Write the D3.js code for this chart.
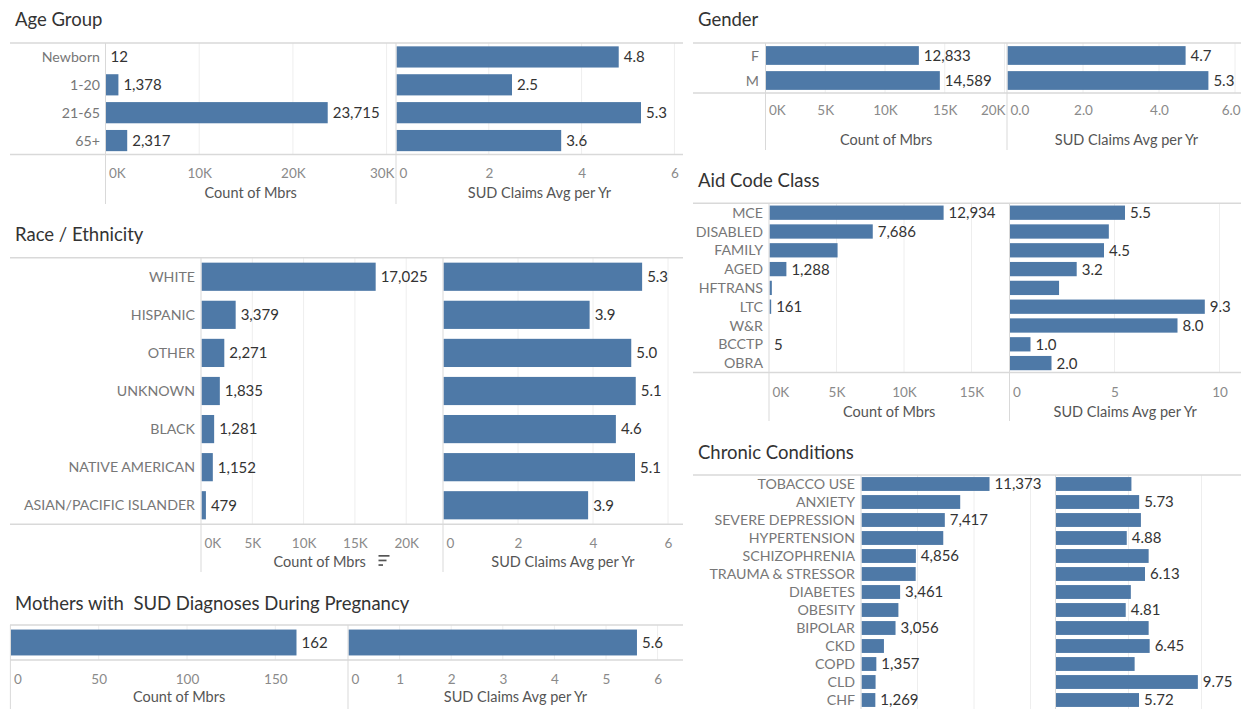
<!DOCTYPE html>
<html><head><meta charset="utf-8">
<script src="https://cdn.jsdelivr.net/npm/d3@7"></script>
<style>
body{margin:0;background:#fff;}
svg{display:block;font-family:Lato,"Open Sans",sans-serif;}
</style></head><body>
<svg id="c" width="1241" height="709"></svg>
<script>
// ---------------- DATA ----------------
const ageCategories = ["Newborn", "1-20", "21-65", "65+"];
const ageCount = [12, 1378, 23715, 2317];
const ageSud = [4.8, 2.5, 5.28, 3.56];

const genderCategories = ["F", "M"];
const genderCount = [12833, 14589];
const genderSud = [4.7, 5.3];

const aidCategories = ["MCE", "DISABLED", "FAMILY", "AGED", "HFTRANS", "LTC", "W&R", "BCCTP", "OBRA"];
const aidCount = [12934, 7686, 5080, 1288, 210, 161, 20, 5, 3];
const aidSud = [5.5, 4.73, 4.5, 3.2, 2.36, 9.3, 8.0, 1.0, 2.0];
const aidCountShown = [1, 1, 0, 1, 0, 1, 0, 1, 0];
const aidSudShown = [1, 0, 1, 1, 0, 1, 1, 1, 1];

const raceCategories = ["WHITE", "HISPANIC", "OTHER", "UNKNOWN", "BLACK", "NATIVE AMERICAN", "ASIAN/PACIFIC ISLANDER"];
const raceCount = [17025, 3379, 2271, 1835, 1281, 1152, 479];
const raceSud = [5.31, 3.91, 5.02, 5.14, 4.61, 5.12, 3.87];

const chronicCategories = ["TOBACCO USE", "ANXIETY", "SEVERE DEPRESSION", "HYPERTENSION", "SCHIZOPHRENIA", "TRAUMA & STRESSOR", "DIABETES", "OBESITY", "BIPOLAR", "CKD", "COPD", "CLD", "CHF"];
const chronicCount = [11373, 8780, 7417, 7280, 4856, 4840, 3461, 3310, 3056, 2030, 1357, 1290, 1269];
const chronicSud = [5.2, 5.73, 5.85, 4.88, 6.38, 6.13, 5.16, 4.81, 6.38, 6.45, 5.42, 9.75, 5.72];
const chronicCountShown = [1, 0, 1, 0, 1, 0, 1, 0, 1, 0, 1, 0, 1];
const chronicSudShown = [0, 1, 0, 1, 0, 1, 0, 1, 0, 1, 0, 1, 1];

const mothersCategories = ["Mothers"];
const mothersCount = [162];
const mothersSud = [5.6];

const ageCountTicks = [0, 10000, 20000, 30000];
const ageSudTicks = [0, 2, 4, 6];
const genderCountTicks = [0, 5000, 10000, 15000, 20000];
const genderSudTicks = [0, 2, 4, 6];
const aidCountTicks = [0, 5000, 10000, 15000];
const aidSudTicks = [0, 5, 10];
const raceCountTicks = [0, 5000, 10000, 15000, 20000];
const raceSudTicks = [0, 2, 4, 6];
const chronicCountTicks = [0, 5000, 10000, 15000];
const chronicSudTicks = [0, 5, 10];
const mothersCountTicks = [0, 50, 100, 150];
const mothersSudTicks = [0, 1, 2, 3, 4, 5, 6];

// ---------------- DRAWING ----------------
const svg = d3.select("#c");
const BAR = "#4e79a7";
const LINE = "#d9d9d9";
const GRID = "#eeeeee";
const fmtK = v => (v / 1000) + "K";
const fmtInt = d3.format(",");
const fmt1 = d3.format(".1f");
const fmt2 = d3.format(".2f");
const fmt0 = d3.format("d");

function drawPanel(p) {
  const g = svg.append("g");
  g.append("text").attr("x", p.tx).attr("y", p.ty)
    .attr("font-size", 18.5).attr("fill", "#333")
    .style("white-space", "pre").text(p.title);

  const y = d3.scaleBand().domain(p.cats).range([p.top, p.bottom])
    .paddingInner(p.pad).paddingOuter(p.pad / 2);
  const bw = y.bandwidth();

  p.measures.forEach(m => {
    const x = d3.scaleLinear().domain([0, m.max]).range([m.x0, m.x0 + m.max * m.ppu]);
    const rows = m.vals.map((v, i) => ({ v, cat: p.cats[i], show: !m.shown || !!m.shown[i] }));
    // gridlines
    g.append("g").selectAll("line").data(m.ticks.filter(t => t > 0)).join("line")
      .attr("x1", d => x(d)).attr("x2", d => x(d))
      .attr("y1", p.top).attr("y2", p.bottom)
      .attr("stroke", GRID).attr("stroke-width", 1);
    // bars
    g.append("g").selectAll("rect").data(rows).join("rect")
      .attr("x", x(0) + 0.5)
      .attr("y", d => y(d.cat))
      .attr("width", d => Math.max(0, x(d.v) - x(0) - 0.5))
      .attr("height", bw)
      .attr("fill", BAR);
    // value labels
    g.append("g").selectAll("text").data(rows.filter(d => d.show)).join("text")
      .attr("x", d => x(d.v) + 5)
      .attr("y", d => y(d.cat) + bw / 2)
      .attr("dy", "0.36em")
      .attr("font-size", 15).attr("fill", "#333")
      .text(d => m.valFmt(d.v));
    // axis
    if (m.tickY !== undefined) {
      const ax = g.append("g").attr("transform", `translate(0,${m.tickY})`)
        .call(d3.axisBottom(x).tickValues(m.ticks).tickFormat(m.tickFmt).tickSize(0).tickPadding(0));
      ax.select(".domain").remove();
      ax.attr("font-family", null).attr("font-size", null);
      ax.selectAll("text").attr("y", 0).attr("dy", "0.36em")
        .attr("font-size", 13.5).attr("fill", "#8a8a8a")
        .each(function (d) {
          const w = this.getComputedTextLength();
          const cx = x(d);
          let dx = 0;
          if (cx - w / 2 < m.x0 + 3) dx = (m.x0 + 3) - (cx - w / 2);
          if (cx + w / 2 > m.x1 - 2) dx = (m.x1 - 2) - (cx + w / 2);
          d3.select(this).attr("x", dx);
        });
      g.append("text").attr("x", (m.x0 + m.x1) / 2 + (m.titleShift || 0)).attr("y", m.titleY)
        .attr("dy", "0.36em").attr("text-anchor", "middle")
        .attr("font-size", 14.5).attr("fill", "#555").text(m.axisTitle);
    }
    // separator / zero line
    g.append("line").attr("x1", m.x0).attr("x2", m.x0)
      .attr("y1", p.top).attr("y2", p.extend)
      .attr("stroke", LINE).attr("stroke-width", 1);
  });

  // horizontal borders
  g.append("line").attr("x1", p.left).attr("x2", p.right).attr("y1", p.top).attr("y2", p.top)
    .attr("stroke", LINE).attr("stroke-width", 1.5);
  if (p.bottomLine) g.append("line").attr("x1", p.left).attr("x2", p.right).attr("y1", p.bottom).attr("y2", p.bottom)
    .attr("stroke", LINE).attr("stroke-width", 1.5);

  // category labels
  if (p.labelX !== undefined) {
    g.append("g").selectAll("text").data(p.cats).join("text")
      .attr("x", p.labelX).attr("y", d => y(d) + bw / 2).attr("dy", "0.36em")
      .attr("text-anchor", "end").attr("font-size", 14.2).attr("fill", "#777")
      .text(d => d);
  }
  return g;
}

// Age Group
drawPanel({
  title: "Age Group", tx: 15, ty: 26, left: 10, right: 683,
  top: 43, bottom: 154.5, extend: 204, pad: 0.24, labelX: 100, bottomLine: true,
  cats: ageCategories,
  measures: [
    { vals: ageCount, x0: 105.5, x1: 396, ppu: 0.00937, max: 31000, ticks: ageCountTicks, tickFmt: fmtK, valFmt: fmtInt,
      tickY: 173, titleY: 193, axisTitle: "Count of Mbrs" },
    { vals: ageSud, x0: 396, x1: 683, ppu: 46.4, max: 6.18, ticks: ageSudTicks, tickFmt: fmt0, valFmt: fmt1,
      tickY: 173, titleY: 193, axisTitle: "SUD Claims Avg per Yr" }
  ]
});

// Gender
drawPanel({
  title: "Gender", tx: 698, ty: 26, left: 693, right: 1241,
  top: 43, bottom: 93, extend: 150, pad: 0.25, labelX: 759, bottomLine: true,
  cats: genderCategories,
  measures: [
    { vals: genderCount, x0: 765.5, x1: 1007, ppu: 0.01195, max: 20200, ticks: genderCountTicks, tickFmt: fmtK, valFmt: fmtInt,
      tickY: 110.5, titleY: 139.5, axisTitle: "Count of Mbrs" },
    { vals: genderSud, x0: 1007, x1: 1242, ppu: 38, max: 6.2, ticks: genderSudTicks, tickFmt: fmt1, valFmt: fmt1,
      tickY: 110.5, titleY: 139.5, axisTitle: "SUD Claims Avg per Yr", titleShift: 2 }
  ]
});

// Aid Code Class
drawPanel({
  title: "Aid Code Class", tx: 698, ty: 187, left: 693, right: 1241,
  top: 203.3, bottom: 372.5, extend: 421, pad: 0.24, labelX: 763, bottomLine: true,
  cats: aidCategories,
  measures: [
    { vals: aidCount, shown: aidCountShown, x0: 769, x1: 1009.5, ppu: 0.0135, max: 17800, ticks: aidCountTicks, tickFmt: fmtK, valFmt: fmtInt,
      tickY: 392, titleY: 411.5, axisTitle: "Count of Mbrs" },
    { vals: aidSud, shown: aidSudShown, x0: 1009.5, x1: 1241, ppu: 21, max: 11.02, ticks: aidSudTicks, tickFmt: fmt0, valFmt: fmt1,
      tickY: 392, titleY: 411.5, axisTitle: "SUD Claims Avg per Yr" }
  ]
});

// Chronic Conditions
drawPanel({
  title: "Chronic Conditions", tx: 698, ty: 459, left: 693, right: 1241,
  top: 475, bottom: 475 + 13 * 18.0, extend: 709, pad: 0.23, labelX: 855, bottomLine: false,
  cats: chronicCategories,
  measures: [
    { vals: chronicCount, shown: chronicCountShown, x0: 861, x1: 1055.5, ppu: 0.0113, max: 17200, ticks: chronicCountTicks, tickFmt: fmtK, valFmt: fmtInt },
    { vals: chronicSud, shown: chronicSudShown, x0: 1055.5, x1: 1241, ppu: 14.6, max: 12.7, ticks: chronicSudTicks, tickFmt: fmt0, valFmt: fmt2 }
  ]
});

// Race / Ethnicity
drawPanel({
  title: "Race / Ethnicity", tx: 15, ty: 241, left: 10, right: 683,
  top: 257.7, bottom: 524.3, extend: 572, pad: 0.26, labelX: 195, bottomLine: true,
  cats: raceCategories,
  measures: [
    { vals: raceCount, x0: 201, x1: 442.5, ppu: 0.01026, max: 23500, ticks: raceCountTicks, tickFmt: fmtK, valFmt: fmtInt,
      tickY: 543, titleY: 561.5, axisTitle: "Count of Mbrs", titleShift: -2 },
    { vals: raceSud, x0: 443, x1: 683, ppu: 37.5, max: 6.4, ticks: raceSudTicks, tickFmt: fmt0, valFmt: fmt1,
      tickY: 543, titleY: 561.5, axisTitle: "SUD Claims Avg per Yr" }
  ]
});
// sort indicator next to "Count of Mbrs"
const sortIcon = svg.append("g").attr("fill", "#555");
[11, 8, 4.5].forEach((w, i) => sortIcon.append("rect").attr("x", 378.5).attr("y", 555 + i * 4.6).attr("width", w).attr("height", 1.7));

// Mothers with SUD Diagnoses During Pregnancy
drawPanel({
  title: "Mothers with  SUD Diagnoses During Pregnancy", tx: 15, ty: 610, left: 10, right: 683,
  top: 625, bottom: 660, extend: 709, pad: 0.26, bottomLine: true,
  cats: mothersCategories,
  measures: [
    { vals: mothersCount, x0: 10.4, x1: 347.7, ppu: 1.766, max: 191, ticks: mothersCountTicks, tickFmt: fmt0, valFmt: fmtInt,
      tickY: 679.5, titleY: 697, axisTitle: "Count of Mbrs" },
    { vals: mothersSud, x0: 348, x1: 683, ppu: 51.6, max: 6.49, ticks: mothersSudTicks, tickFmt: fmt0, valFmt: fmt1,
      tickY: 679.5, titleY: 697, axisTitle: "SUD Claims Avg per Yr" }
  ]
});
</script>
</body></html>
